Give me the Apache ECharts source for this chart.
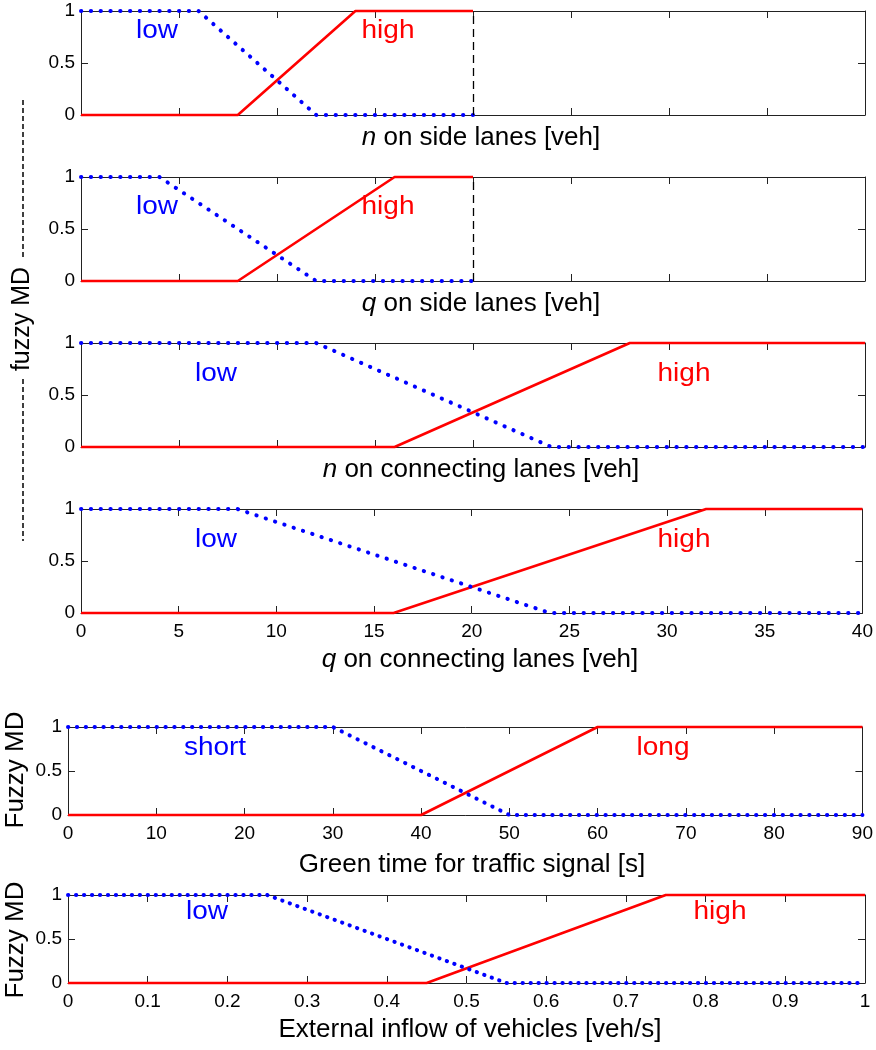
<!DOCTYPE html>
<html>
<head>
<meta charset="utf-8">
<script src="https://cdn.jsdelivr.net/npm/echarts@6/dist/echarts.min.js"></script>
<style>
html,body{margin:0;padding:0;background:#fff;}
#chart{width:876px;height:1050px;}
</style>
</head>
<body>
<div id="chart"></div>
<script>
// ---- data (breakpoints of the membership functions) ----
const nSideLow   = [[0,1],[6,1],[12,0],[20,0]];
const nSideHigh  = [[0,0],[8,0],[14,1],[20,1]];
const qSideLow   = [[0,1],[4,1],[12,0],[20,0]];
const qSideHigh  = [[0,0],[8,0],[16,1],[20,1]];
const nConnLow   = [[0,1],[12,1],[24,0],[40,0]];
const nConnHigh  = [[0,0],[16,0],[28,1],[40,1]];
const qConnLow   = [[0,1],[8,1],[24,0],[40,0]];
const qConnHigh  = [[0,0],[16,0],[32,1],[40,1]];
const greenShort = [[0,1],[30,1],[50,0],[90,0]];
const greenLong  = [[0,0],[40,0],[60,1],[90,1]];
const inflowLow  = [[0,1],[0.25,1],[0.55,0],[1,0]];
const inflowHigh = [[0,0],[0.45,0],[0.75,1],[1,1]];

const setNames = [['low','high'],['low','high'],['low','high'],['low','high'],['short','long'],['low','high']];
const axisTitles = ['{i|n} on side lanes [veh]','{i|q} on side lanes [veh]','{i|n} on connecting lanes [veh]','{i|q} on connecting lanes [veh]','Green time for traffic signal [s]','External inflow of vehicles [veh/s]'];
const xRanges = [[0,40,5],[0,40,5],[0,40,5],[0,40,5],[0,90,10],[0,1,0.1]];
const cutValues = [20,20,null,null,null,null];
const yTitleGroup = 'fuzzy MD';
const yTitleSingle = 'Fuzzy MD';

// ---- layout ----
const FONT = '"Liberation Sans", Arial, Helvetica, sans-serif';
const layout = [
  {left:81, top:11,  height:104, showX:false, dot:9.8,  lbl:[[157,31],[388,31]],  title:[481,138]},
  {left:81, top:177, height:104, showX:false, dot:9.8,  lbl:[[157,207],[388,207]], title:[481,304]},
  {left:81, top:343, height:104, showX:false, dot:9.8,  lbl:[[216,374],[684,374]], title:[481,470]},
  {left:81, top:509, height:104, showX:true,  dot:9.8,  lbl:[[216,540],[684,540]], title:[480,660]},
  {left:68, top:727, height:88,  showX:true,  dot:8.86, lbl:[[215,748],[663,748]], title:[472,865]},
  {left:68, top:895, height:88,  showX:true,  dot:7.97, lbl:[[207,912],[720,912]], title:[470,1030]}
];
const lows  = [nSideLow, qSideLow, nConnLow, qConnLow, greenShort, inflowLow];
const highs = [nSideHigh, qSideHigh, nConnHigh, qConnHigh, greenLong, inflowHigh];

const grid = [], xAxis = [], yAxis = [], series = [], graphic = [];
const lineCol = '#222';
layout.forEach((L, i) => {
  grid.push({left:L.left, right:11, top:L.top, height:L.height, containLabel:false});
  const [mn, mx, iv] = xRanges[i];
  const baseX = {gridIndex:i, type:'value', min:mn, max:mx, interval:iv,
    axisLine:{show:true, onZero:false, lineStyle:{color:lineCol, width:1}},
    axisTick:{show:true, inside:true, length:7, lineStyle:{color:lineCol}},
    splitLine:{show:false}};
  xAxis.push(Object.assign({}, baseX, {position:'bottom',
    axisLabel:{show:L.showX, color:'#000', fontFamily:FONT, fontSize:19, margin:9}}));
  xAxis.push(Object.assign({}, baseX, {position:'top', axisLabel:{show:false}}));
  const baseY = {gridIndex:i, type:'value', min:0, max:1, interval:0.5,
    axisLine:{show:true, onZero:false, lineStyle:{color:lineCol, width:1}},
    axisTick:{show:true, inside:true, length:7, lineStyle:{color:lineCol}},
    splitLine:{show:false}};
  yAxis.push(Object.assign({}, baseY, {position:'left',
    axisLabel:{show:true, color:'#000', fontFamily:FONT, fontSize:19, margin:6}}));
  yAxis.push(Object.assign({}, baseY, {position:'right', axisLabel:{show:false}}));

  const highSeries = {type:'line', xAxisIndex:2*i, yAxisIndex:2*i, data:highs[i],
    symbol:'none', clip:false, silent:true, animation:false,
    lineStyle:{color:'#ff0000', width:2.6}, z:3};
  if (cutValues[i] !== null) {
    highSeries.markLine = {silent:true, symbol:'none', animation:false,
      label:{show:false},
      lineStyle:{color:'#000', width:1.3, type:[8,5]},
      data:[{xAxis:cutValues[i]}]};
  }
  series.push(highSeries);
  series.push({type:'line', xAxisIndex:2*i, yAxisIndex:2*i, data:lows[i],
    symbol:'none', clip:false, silent:true, animation:false,
    lineStyle:{color:'#0000ff', width:4, type:[0.3, L.dot - 0.3], cap:'round'}, z:4});

  // set labels
  graphic.push({type:'text', x:L.lbl[0][0], y:L.lbl[0][1], scaleX:1.12,
    style:{text:setNames[i][0], fill:'#0000ff', font:'25px ' + FONT, textAlign:'center', textVerticalAlign:'middle'}});
  graphic.push({type:'text', x:L.lbl[1][0], y:L.lbl[1][1], scaleX:1.12,
    style:{text:setNames[i][1], fill:'#ff0000', font:'25px ' + FONT, textAlign:'center', textVerticalAlign:'middle'}});
  // axis title
  graphic.push({type:'text', x:L.title[0], y:L.title[1],
    style:{text:axisTitles[i], fill:'#000', fontFamily:FONT, fontSize:26, textAlign:'center', textVerticalAlign:'middle',
      rich:{i:{fontStyle:'italic', fontFamily:FONT, fontSize:26, fill:'#000'}}}});
});

// shared y title for first four panels with dashed lines
graphic.push({type:'text', x:22, y:319, rotation:Math.PI/2,
  style:{text:yTitleGroup, fill:'#000', font:'25px ' + FONT, textAlign:'center', textVerticalAlign:'middle'}});
graphic.push({type:'line', shape:{x1:23, y1:100, x2:23, y2:259}, style:{stroke:'#000', lineWidth:1.5, lineDash:[5,3]}});
graphic.push({type:'line', shape:{x1:23, y1:379, x2:23, y2:541}, style:{stroke:'#000', lineWidth:1.5, lineDash:[5,3]}});
// y titles for the lower two panels
graphic.push({type:'text', x:16, y:770, rotation:Math.PI/2,
  style:{text:yTitleSingle, fill:'#000', font:'26px ' + FONT, textAlign:'center', textVerticalAlign:'middle'}});
graphic.push({type:'text', x:16, y:940, rotation:Math.PI/2,
  style:{text:yTitleSingle, fill:'#000', font:'26px ' + FONT, textAlign:'center', textVerticalAlign:'middle'}});

const chart = echarts.init(document.getElementById('chart'), null, {renderer:'canvas'});
chart.setOption({animation:false, backgroundColor:'#fff', grid, xAxis, yAxis, series, graphic});
</script>
</body>
</html>
